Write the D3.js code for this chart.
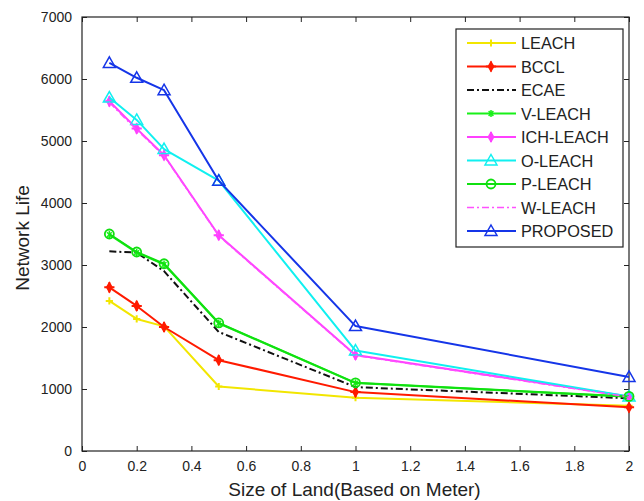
<!DOCTYPE html>
<html>
<head>
<meta charset="utf-8">
<script src="https://cdn.jsdelivr.net/npm/d3@7"></script>
<style>
  html, body { margin: 0; padding: 0; background: #fff; }
  svg { display: block; font-family: "Liberation Sans", Arial, sans-serif; }
</style>
</head>
<body>
<svg id="chart" width="644" height="501"></svg>
<script>
// Land size (m) on the x axis
const sizes = [0.1, 0.2, 0.3, 0.5, 1, 2];

// Network life per protocol
const leach    = [2420, 2130, 2010, 1040, 860, 730];
const bccl     = [2640, 2340, 2000, 1465, 950, 705];
const ecae     = [3220, 3200, 2900, 1920, 1030, 850];
const vleach   = [3490, 3200, 3010, 2060, 1095, 875];
const ichleach = [5640, 5200, 4770, 3480, 1550, 880];
const oleach   = [5700, 5340, 4870, 4360, 1620, 880];
const pleach   = [3500, 3210, 3020, 2065, 1100, 880];
const wleach   = [5620, 5180, 4760, 3470, 1540, 870];
const proposed = [6260, 6020, 5820, 4360, 2015, 1195];

const xTicks = [0, 0.2, 0.4, 0.6, 0.8, 1, 1.2, 1.4, 1.6, 1.8, 2];
const yTicks = [0, 1000, 2000, 3000, 4000, 5000, 6000, 7000];

const series = [
  { name: "LEACH",     values: leach,    color: "#f2e600", width: 2,   dash: null,      marker: "plus" },
  { name: "BCCL",      values: bccl,     color: "#ff1a00", width: 2,   dash: null,      marker: "star" },
  { name: "ECAE",      values: ecae,     color: "#111111", width: 2,   dash: "7,3,2,3", marker: null },
  { name: "V-LEACH",   values: vleach,   color: "#19f019", width: 2,   dash: null,      marker: "cross" },
  { name: "ICH-LEACH", values: ichleach, color: "#ff40ff", width: 2,   dash: null,      marker: "star" },
  { name: "O-LEACH",   values: oleach,   color: "#10f0f0", width: 2,   dash: null,      marker: "triangle" },
  { name: "P-LEACH",   values: pleach,   color: "#10e010", width: 2,   dash: null,      marker: "circle" },
  { name: "W-LEACH",   values: wleach,   color: "#ff50ff", width: 1.5, dash: "7,3,2,3", marker: null },
  { name: "PROPOSED",  values: proposed, color: "#1535e8", width: 2,   dash: null,      marker: "triangle" }
];

const svg = d3.select("#chart");
const m = { left: 82, right: 629, top: 17, bottom: 451 };

const x = d3.scaleLinear().domain([0, 2]).range([m.left, m.right]);
const y = d3.scaleLinear().domain([0, 7000]).range([m.bottom, m.top]);

// Axes with inward ticks on all four sides
const tickLen = 5;
svg.append("g").attr("transform", `translate(0,${m.bottom})`)
  .call(d3.axisBottom(x).tickValues(xTicks).tickSizeInner(-tickLen).tickSizeOuter(0)
        .tickPadding(10).tickFormat(d => d3.format("~g")(d)))
  .call(g => g.select(".domain").remove());
svg.append("g").attr("transform", `translate(0,${m.top})`)
  .call(d3.axisTop(x).tickValues(xTicks).tickSizeInner(-tickLen).tickSizeOuter(0).tickFormat(""))
  .call(g => g.select(".domain").remove());
svg.append("g").attr("transform", `translate(${m.left},0)`)
  .call(d3.axisLeft(y).tickValues(yTicks).tickSizeInner(-tickLen).tickSizeOuter(0)
        .tickPadding(10).tickFormat(d3.format("d")))
  .call(g => g.select(".domain").remove());
svg.append("g").attr("transform", `translate(${m.right},0)`)
  .call(d3.axisRight(y).tickValues(yTicks).tickSizeInner(-tickLen).tickSizeOuter(0).tickFormat(""))
  .call(g => g.select(".domain").remove());

svg.selectAll(".tick text").attr("font-size", 14).attr("fill", "#222")
  .attr("font-family", "Liberation Sans, Arial, sans-serif");
svg.selectAll(".tick line").attr("stroke", "#222");

// Plot frame
svg.append("rect")
  .attr("x", m.left).attr("y", m.top)
  .attr("width", m.right - m.left).attr("height", m.bottom - m.top)
  .attr("fill", "none").attr("stroke", "#222").attr("stroke-width", 1.2);

// Axis titles
svg.append("text")
  .attr("x", (m.left + m.right) / 2 - 1).attr("y", 496)
  .attr("text-anchor", "middle").attr("font-size", 19).attr("fill", "#222")
  .text("Size of Land(Based on Meter)");
svg.append("text")
  .attr("transform", `translate(29,${(m.top + m.bottom) / 2 + 4}) rotate(-90)`)
  .attr("text-anchor", "middle").attr("font-size", 19).attr("fill", "#222")
  .text("Network Life");

// Marker drawing
function drawMarker(g, type, color, cx, cy, s) {
  if (type === "triangle") {
    g.append("path")
      .attr("d", `M${cx},${cy - s} L${cx + s},${cy + s * 0.75} L${cx - s},${cy + s * 0.75} Z`)
      .attr("fill", "none").attr("stroke", color).attr("stroke-width", 1.5);
  } else if (type === "circle") {
    g.append("circle").attr("cx", cx).attr("cy", cy).attr("r", s * 0.75)
      .attr("fill", "none").attr("stroke", color).attr("stroke-width", 1.8);
  } else if (type === "star") {
    g.append("path")
      .attr("d", d3.symbol().type(d3.symbolDiamond).size(s * s * 1.2)())
      .attr("transform", `translate(${cx},${cy})`)
      .attr("fill", color);
    g.append("path")
      .attr("d", `M${cx - s * 0.85},${cy} L${cx + s * 0.85},${cy} M${cx},${cy - s * 0.85} L${cx},${cy + s * 0.85}`)
      .attr("stroke", color).attr("stroke-width", 2);
  } else if (type === "plus") {
    g.append("path")
      .attr("d", `M${cx - s * 0.6},${cy} L${cx + s * 0.6},${cy} M${cx},${cy - s * 0.6} L${cx},${cy + s * 0.6}`)
      .attr("stroke", color).attr("stroke-width", 2);
  } else if (type === "cross") {
    g.append("path")
      .attr("d", `M${cx},${cy - s * 0.6} L${cx},${cy + s * 0.6} M${cx - s * 0.4},${cy - s * 0.4} L${cx + s * 0.4},${cy + s * 0.4} M${cx + s * 0.4},${cy - s * 0.4} L${cx - s * 0.4},${cy + s * 0.4}`)
      .attr("stroke", color).attr("stroke-width", 1.5);
  }
}

const line = d3.line().x((d, i) => x(sizes[i])).y(d => y(d));
const plot = svg.append("g");

series.forEach(s => {
  const g = plot.append("g");
  g.append("path")
    .attr("d", line(s.values))
    .attr("fill", "none").attr("stroke", s.color)
    .attr("stroke-width", s.width)
    .attr("stroke-dasharray", s.dash)
    .attr("stroke-linejoin", "round");
  if (s.marker) {
    s.values.forEach((v, i) => drawMarker(g, s.marker, s.color, x(sizes[i]), y(v), 6));
  }
});

// Legend
const lg = svg.append("g");
lg.append("rect").attr("x", 456).attr("y", 29).attr("width", 167).attr("height", 218)
  .attr("fill", "#fff").attr("stroke", "#222").attr("stroke-width", 1.2);
series.forEach((s, i) => {
  const ly = 43 + i * 23.5;
  lg.append("line").attr("x1", 467).attr("x2", 516).attr("y1", ly).attr("y2", ly)
    .attr("stroke", s.color).attr("stroke-width", s.width).attr("stroke-dasharray", s.dash);
  if (s.marker) drawMarker(lg, s.marker, s.color, 491, ly, 6);
  lg.append("text").attr("x", 521).attr("y", ly + 6)
    .attr("font-size", 16.3).attr("fill", "#222").text(s.name);
});
</script>
</body>
</html>
